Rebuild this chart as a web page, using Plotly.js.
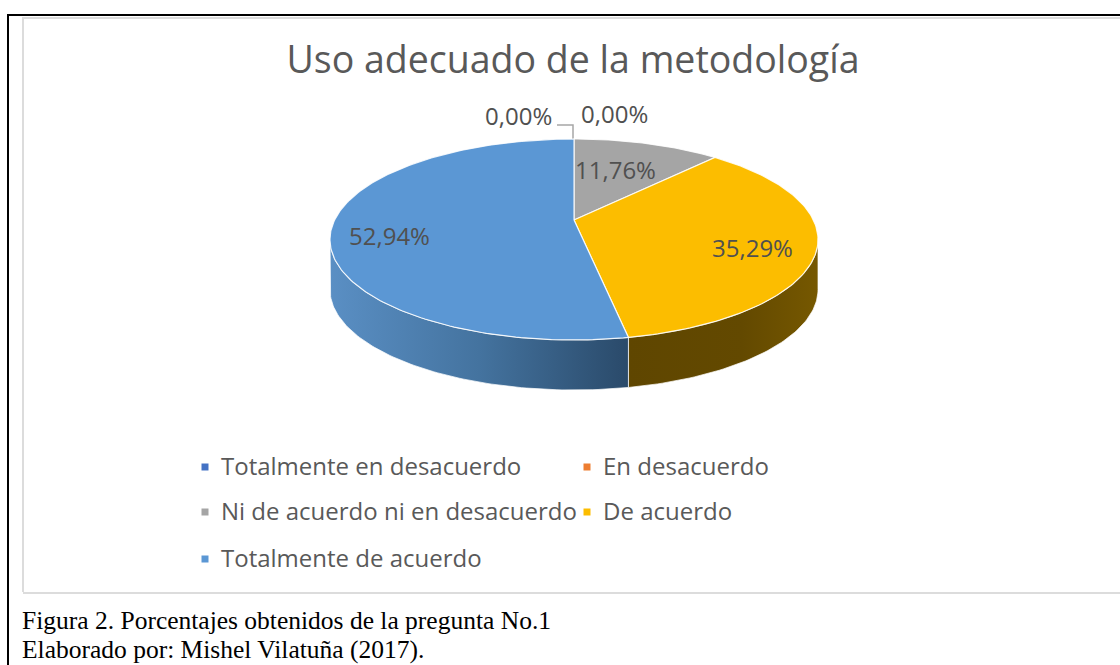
<!DOCTYPE html>
<html>
<head>
<meta charset="utf-8">
<script src="https://cdn.plot.ly/plotly-3.0.1.min.js"></script>
<style>
  html, body { margin: 0; padding: 0; background: #fff; }
</style>
</head>
<body>
<div id="chart" style="width:1120px;height:665px;"></div>
<script>
var categories = ["Totalmente en desacuerdo", "En desacuerdo", "Ni de acuerdo ni en desacuerdo", "De acuerdo", "Totalmente de acuerdo"];
var values = [0, 0, 11.76, 35.29, 52.94];
var colors = ["#4472c4", "#ed7d31", "#a5a5a5", "#fcbd00", "#5b97d4"];
var captions = ["Figura 2. Porcentajes obtenidos de la pregunta No.1", "Elaborado por: Mishel Vilatuña (2017)."];

// where each data label sits, same order as values
var labelX = [518, 614, 615, 752, 389];
var labelY = [115, 113, 169, 247, 235];

// legend slots, same order as categories
var legendX = [205, 587, 205, 587, 205];
var legendY = [467, 467, 512, 512, 559];

// the tilted pie: circle seen in perspective, page pixels
var cx = 574, cy = 239.5, rx = 244, ry = 100.5, depth = 50;
var k = 0.194;
var ax = rx * Math.sqrt(1 - k * k);

function project(deg, drop) {
  var t = deg * Math.PI / 180;
  var u = Math.sin(t), v = Math.cos(t);
  var w = 1 + k * v;
  return [cx + ax * u / w, cy - (ry * v + ry * k) / w + (drop || 0)];
}

function arc(from, to, drop) {
  var pts = [];
  var n = Math.max(2, Math.ceil(Math.abs(to - from)));
  for (var i = 0; i <= n; i++) {
    pts.push(project(from + (to - from) * i / n, drop));
  }
  return pts;
}

function xs(pts) { return pts.map(function(p) { return p[0]; }); }
function ys(pts) { return pts.map(function(p) { return p[1]; }); }

var total = values.reduce(function(a, b) { return a + b; }, 0);
var tangentR = Math.acos(-k) * 180 / Math.PI;
var tangentL = 360 - tangentR;

var sides = [];
var tops = [];
var start = 0;
for (var i = 0; i < values.length; i++) {
  var end = start + values[i] / total * 360;
  if (values[i] > 0) {
    var pts = [[cx, cy - ry * k]].concat(arc(start, end));
    pts.push(pts[0]);
    tops.push({
      x: xs(pts), y: ys(pts), mode: "lines", fill: "toself", fillcolor: colors[i],
      line: {color: "rgba(255,255,255,0.85)", width: 1.2},
      name: categories[i], showlegend: false, hoverinfo: "name", type: "scatter"
    });
  }
  start = end;
}

// only the front of the rim shows: yellow then blue
var yellowStart = values[2] / total * 360;
var yellowEnd = (values[2] + values[3]) / total * 360;

function rim(from, to, scale, name) {
  var upper = arc(from, to);
  var lower = arc(to, from, depth);
  var pts = upper.concat(lower);
  pts.push(pts[0]);
  return {
    x: xs(pts), y: ys(pts), mode: "lines", fill: "toself",
    fillcolor: scale[0][1],
    fillgradient: {type: "horizontal", colorscale: scale},
    line: {color: "rgba(255,255,255,0.7)", width: 1},
    name: name, showlegend: false, hoverinfo: "name", type: "scatter"
  };
}

sides.push(rim(yellowStart > tangentR ? yellowStart : tangentR, yellowEnd,
  [[0, "#5f4600"], [0.6, "#634900"], [1, "#765800"]], categories[3]));
sides.push(rim(yellowEnd, tangentL,
  [[0, "#5a8fc4"], [0.5, "#44739f"], [1, "#2a4a6a"]], categories[4]));

var legendTraces = categories.map(function(name, i) {
  return {
    x: [legendX[i]], y: [legendY[i]], mode: "markers",
    marker: {symbol: "square", size: 7, color: colors[i]},
    name: name, showlegend: false, hoverinfo: "skip", type: "scatter"
  };
});

var annotations = values.map(function(v, i) {
  return {
    x: labelX[i], y: labelY[i], xref: "x", yref: "y", showarrow: false,
    text: v.toFixed(2).replace(".", ",") + "%",
    font: {family: "Open Sans, sans-serif", size: 24, color: "#505050"}
  };
});

categories.forEach(function(name, i) {
  annotations.push({
    x: legendX[i] + 14, y: legendY[i] - 2, xref: "x", yref: "y", xanchor: "left", showarrow: false,
    text: name,
    font: {family: "Open Sans, sans-serif", size: 24, color: "#595959"}
  });
});

annotations.push({
  x: 20, y: 620, xref: "x", yref: "y", xanchor: "left", showarrow: false,
  text: captions[0], font: {family: "Liberation Serif, serif", size: 25.5, color: "#000"}
});
annotations.push({
  x: 20, y: 649.5, xref: "x", yref: "y", xanchor: "left", showarrow: false,
  text: captions[1], font: {family: "Liberation Serif, serif", size: 25.5, color: "#000"}
});

var layout = {
  width: 1120,
  height: 665,
  margin: {l: 0, r: 0, t: 0, b: 0},
  paper_bgcolor: "#fff",
  plot_bgcolor: "#fff",
  showlegend: false,
  title: {
    text: "Uso adecuado de la metodología",
    x: 573 / 1120, xanchor: "center",
    y: 1 - 60 / 665, yanchor: "middle",
    font: {family: "Open Sans, sans-serif", size: 37.5, color: "#595959"}
  },
  xaxis: {range: [0, 1120], visible: false, fixedrange: true},
  yaxis: {range: [665, 0], visible: false, fixedrange: true},
  annotations: annotations,
  shapes: [
    // page frame, open on the right and at the bottom
    {type: "path", path: "M 8 665 L 8 15 L 1120 15", line: {color: "#000", width: 2}, layer: "below"},
    // chart box
    {type: "path", path: "M 23 592 L 23 18 L 1120 18 M 23 593 L 1120 593", line: {color: "#dcdcdc", width: 2}, layer: "below"},
    // leader line of the zero slices
    {type: "path", path: "M 557 125 L 573 125 L 573 139", line: {color: "#a6a6a6", width: 1.5}, layer: "below"}
  ]
};

Plotly.newPlot("chart", sides.concat(tops, legendTraces), layout, {displayModeBar: false, staticPlot: true});
</script>
</body>
</html>
